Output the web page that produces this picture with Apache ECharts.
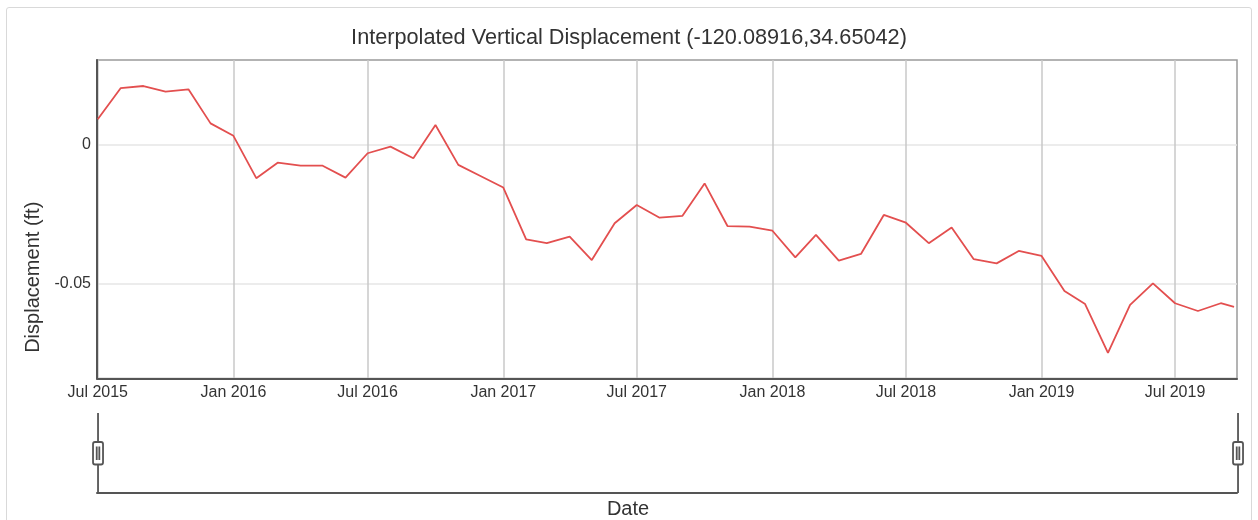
<!DOCTYPE html>
<html>
<head>
<meta charset="utf-8">
<title>Interpolated Vertical Displacement</title>
<script src="https://cdn.jsdelivr.net/npm/echarts@6/dist/echarts.min.js"></script>
<style>
  html, body { margin: 0; padding: 0; background: #fff; }
  #frame {
    position: absolute; left: 6px; top: 7px; width: 1246px; height: 530px;
    border: 1.5px solid #d9d9d9; border-radius: 3px; box-sizing: border-box;
    pointer-events: none;
  }
  #chart { position: absolute; left: 0; top: 0; width: 1258px; height: 520px; }
</style>
</head>
<body>
<div id="chart"></div>
<div id="frame"></div>
<script>
// Monthly displacement samples (ft)
const dates = [
  '2015-07-01','2015-08-01','2015-09-01','2015-10-01','2015-11-01','2015-12-01',
  '2016-01-01','2016-02-01','2016-03-01','2016-04-01','2016-05-01','2016-06-01',
  '2016-07-01','2016-08-01','2016-09-01','2016-10-01','2016-11-01','2016-12-01',
  '2017-01-01','2017-02-01','2017-03-01','2017-04-01','2017-05-01','2017-06-01',
  '2017-07-01','2017-08-01','2017-09-01','2017-10-01','2017-11-01','2017-12-01',
  '2018-01-01','2018-02-01','2018-03-01','2018-04-01','2018-05-01','2018-06-01',
  '2018-07-01','2018-08-01','2018-09-01','2018-10-01','2018-11-01','2018-12-01',
  '2019-01-01','2019-02-01','2019-03-01','2019-04-01','2019-05-01','2019-06-01',
  '2019-07-01','2019-08-01','2019-09-01','2019-09-19'
];
const displacement = [
  0.0093, 0.0205, 0.0213, 0.0193, 0.0201, 0.0078,
  0.0033, -0.0120, -0.0064, -0.0075, -0.0075, -0.0118,
  -0.0030, -0.0006, -0.0048, 0.0072, -0.0072, -0.0112,
  -0.0154, -0.0341, -0.0355, -0.0331, -0.0416, -0.0283,
  -0.0217, -0.0263, -0.0256, -0.0139, -0.0293, -0.0295,
  -0.0310, -0.0406, -0.0325, -0.0418, -0.0394, -0.0253,
  -0.0281, -0.0355, -0.0298, -0.0413, -0.0428, -0.0383,
  -0.0401, -0.0528, -0.0575, -0.0751, -0.0578, -0.0500,
  -0.0572, -0.0600, -0.0572, -0.0585
];
// Axis ticks and extents
const dateTicks = ['2015-07-01','2016-01-01','2016-07-01','2017-01-01','2017-07-01',
                   '2018-01-01','2018-07-01','2019-01-01','2019-07-01'];
const valueTicks = [-0.05, 0];
const dateRange = ['2015-06-30', '2019-09-23'];
const valueRange = [-0.0844, 0.0307];

const MONTHS = ['Jan','Feb','Mar','Apr','May','Jun','Jul','Aug','Sep','Oct','Nov','Dec'];
const toTime = s => { const p = s.split('-').map(Number); return Date.UTC(p[0], p[1] - 1, p[2]); };
const FONT = 'Liberation Sans, Arial, sans-serif';

const chart = echarts.init(document.getElementById('chart'), null, { renderer: 'canvas' });

// Range-filter handle: stem, rounded grip with two bars, stem
const handlePath = 'path://M0,0V28.5M0,51V80M-3,28.5H3A2,2,0,0,1,5,30.5V49A2,2,0,0,1,3,51H-3A2,2,0,0,1,-5,49V30.5A2,2,0,0,1,-3,28.5ZM-1.3,33V46.5M1.3,33V46.5';

chart.setOption({
  animation: false,
  backgroundColor: '#fff',
  title: {
    text: 'Interpolated Vertical Displacement (-120.08916,34.65042)',
    left: 'center', top: 22,
    textStyle: { fontFamily: FONT, fontSize: 21.7, fontWeight: 'normal', color: '#333' }
  },
  grid: [
    { left: 97, right: 21, top: 60, bottom: 141.5, show: true,
      borderColor: '#9a9a9a', borderWidth: 1.5, backgroundColor: 'transparent' },
    { left: 97, right: 21, top: 413, height: 80 }
  ],
  xAxis: [
    {
      type: 'value', gridIndex: 0,
      min: toTime(dateRange[0]), max: toTime(dateRange[1]),
      axisLine: { show: true, onZero: false, lineStyle: { color: '#555', width: 2 } },
      axisTick: { show: false, customValues: dateTicks.map(toTime) },
      axisLabel: {
        customValues: dateTicks.map(toTime),
        fontFamily: FONT, fontSize: 16, color: '#333', margin: 6,
        formatter: v => { const d = new Date(v); return MONTHS[d.getUTCMonth()] + ' ' + d.getUTCFullYear(); }
      },
      splitLine: { show: true, lineStyle: { color: '#c8c8c8', width: 1.5 } }
    },
    {
      type: 'value', gridIndex: 1,
      min: toTime(dateRange[0]), max: toTime(dateRange[1]),
      axisLine: { show: true, onZero: false, lineStyle: { color: '#555', width: 2 } },
      axisTick: { show: false }, axisLabel: { show: false }, splitLine: { show: false },
      name: 'Date', nameLocation: 'middle', nameGap: 6,
      nameTextStyle: { fontFamily: FONT, fontSize: 20, color: '#333', verticalAlign: 'top',
                       padding: [0, 78, 0, 0] }
    }
  ],
  yAxis: [
    {
      type: 'value', gridIndex: 0,
      min: valueRange[0], max: valueRange[1],
      axisLine: { show: true, onZero: false, lineStyle: { color: '#555', width: 2 } },
      axisTick: { show: false, customValues: valueTicks },
      axisLabel: {
        customValues: valueTicks,
        fontFamily: FONT, fontSize: 16, color: '#333', margin: 6,
        formatter: v => String(v)
      },
      splitLine: { show: true, lineStyle: { color: '#e6e6e6', width: 1.5 } },
      name: 'Displacement (ft)', nameLocation: 'middle', nameGap: 54,
      nameTextStyle: { fontFamily: FONT, fontSize: 20, color: '#333', padding: [0, 116, 0, 0] }
    },
    { type: 'value', gridIndex: 1, min: 0, max: 1, show: false }
  ],
  dataZoom: [{
    type: 'slider', xAxisIndex: 0, filterMode: 'none',
    start: 0, end: 100,
    left: 96, right: 20, top: 413, height: 80,
    showDetail: false, showDataShadow: false, brushSelect: false,
    moveHandleSize: 0,
    backgroundColor: 'transparent', borderColor: 'transparent', fillerColor: 'transparent',
    dataBackground: { lineStyle: { opacity: 0 }, areaStyle: { opacity: 0 } },
    selectedDataBackground: { lineStyle: { opacity: 0 }, areaStyle: { opacity: 0 } },
    handleIcon: handlePath, handleSize: '100%',
    handleStyle: { color: '#fff', borderColor: '#555', borderWidth: 1.8 }
  }],
  series: [
    {
      type: 'line', xAxisIndex: 0, yAxisIndex: 0,
      data: dates.map((d, i) => [toTime(d), displacement[i]]),
      showSymbol: false, symbol: 'none',
      lineStyle: { color: '#e34f4f', width: 1.8 },
      itemStyle: { color: '#e34f4f' }
    },
    { type: 'line', xAxisIndex: 1, yAxisIndex: 1, data: [], silent: true }
  ]
});
</script>
</body>
</html>
